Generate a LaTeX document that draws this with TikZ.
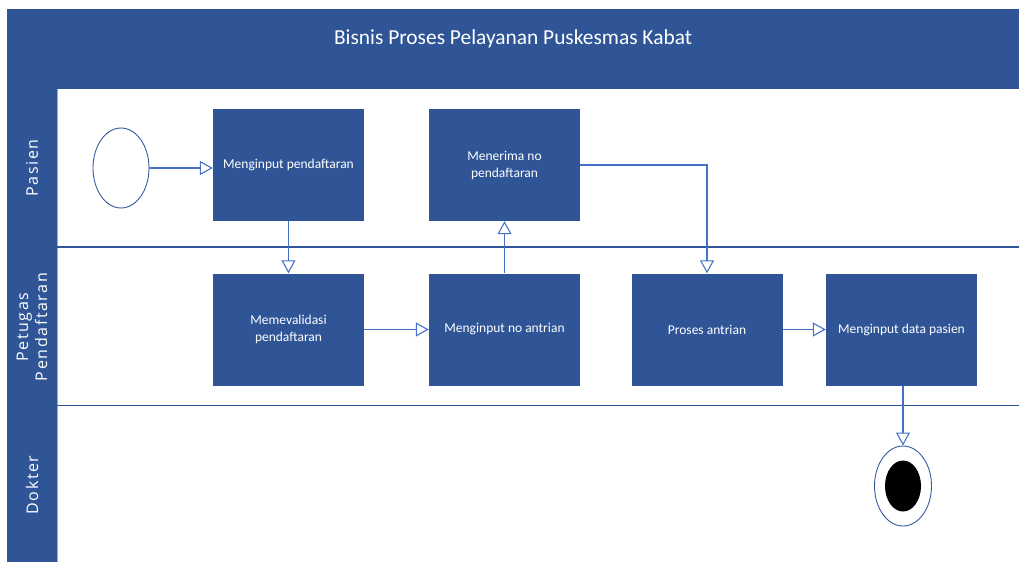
\documentclass[tikz,border=0pt]{standalone}
\usepackage{fontspec}
\setmainfont{Carlito}
\newfontfamily\lanefont{Open Sans}[LetterSpace=10]
\usetikzlibrary{arrows.meta,shapes.geometric}
\definecolor{headblue}{HTML}{2F5597}
\definecolor{lineblue}{HTML}{4472C4}
\begin{document}
\begin{tikzpicture}[x=1pt,y=-1pt,
  process/.style={fill=headblue, draw=none, minimum width=151pt, minimum height=112pt,
    text=white, align=center, font=\fontsize{13.5}{17}\selectfont, inner sep=2pt},
  flow/.style={draw=lineblue, line width=1.2pt,
    -{Triangle[open,length=13pt,width=14pt,line width=1.1pt]}},
  lanelabel/.style={rotate=90, text=white, align=center,
    font=\lanefont\fontsize{16}{19}\selectfont},
  lanesep/.style={draw=headblue, line width=1.4pt}]
\useasboundingbox (0,0) rectangle (1019,562);

% title band and lane header column
\fill[headblue] (7,9) rectangle (1019,89);
\fill[headblue] (7,89) rectangle (57,562);
\draw[lineblue!60, line width=0.8pt] (57,89) -- (57,562);
\node[text=white, anchor=base, font=\fontsize{21.4}{26}\selectfont] (title) at (513,44)
  {Bisnis Proses Pelayanan Puskesmas Kabat};

% lane separators
\draw[lanesep] (57,247) -- (1019,247);
\draw[lanesep] (57,405.5) -- (1019,405.5);

% lane names
\node[lanelabel] (lpasien) at (32,168) {Pasien};
\node[lanelabel] (lpetugas) at (32,327) {Petugas\\Pendaftaran};
\node[lanelabel] (ldokter) at (32,485) {Dokter};

% start and end states
\node[ellipse, draw=lineblue!80!black, line width=0.9pt, minimum width=56pt, minimum height=80pt,
  inner sep=0pt] (start) at (121,168) {};
\node[ellipse, draw=lineblue!80!black, line width=0.9pt, minimum width=57pt, minimum height=80pt,
  inner sep=0pt] (finish) at (903,486) {};
\node[ellipse, fill=black, minimum width=36pt, minimum height=51pt, inner sep=0pt]
  (finishdot) at (903,486) {};

% activities
\node[process] (input) at (288.5,165) {Menginput pendaftaran};
\node[process] (terima) at (504.5,165) {Menerima no\\pendaftaran};
\node[process] (validasi) at (288.5,329.5) {Memevalidasi\\pendaftaran};
\node[process] (noantri) at (504.5,329.5) {Menginput no antrian};
\node[process] (proses) at (707,329.5) {Proses antrian};
\node[process] (datapasien) at (901.5,329.5) {Menginput data pasien};

% flow
\draw[flow] (start.east) -- (start.east -| input.west);
\draw[flow] (input.south) -- (validasi.north);
\draw[flow] (validasi.east) -- (noantri.west);
\draw[flow] (noantri.north) -- (terima.south);
\draw[flow] (terima.east) -| (proses.north);
\draw[flow] (proses.east) -- (datapasien.west);
\draw[flow] (datapasien.south -| finish.north) -- (finish.north);
\end{tikzpicture}
\end{document}
